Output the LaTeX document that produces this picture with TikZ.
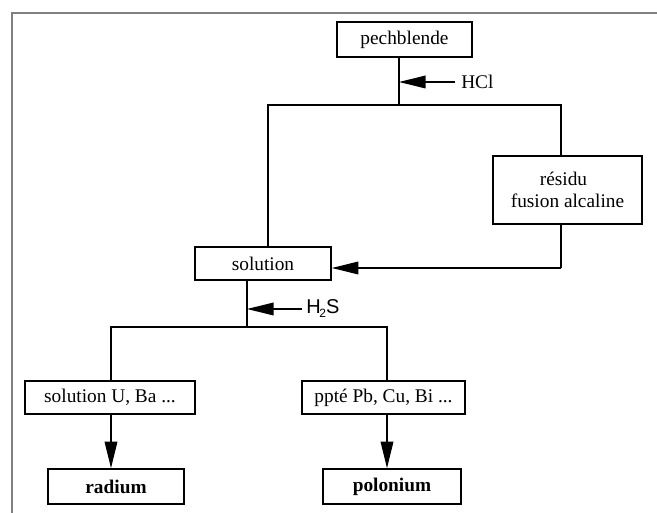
\documentclass[tikz,border=0pt]{standalone}
\usepackage{fontspec}
\setmainfont{Liberation Serif}
\newfontfamily\hsans{Liberation Sans}
\usetikzlibrary{arrows.meta}
\begin{document}
\begin{tikzpicture}[x=0.75pt,y=-0.75pt,
  box/.style={draw,line width=1.2pt,inner sep=0pt,minimum height=#1*0.75pt,align=center,font=\fontsize{14.5}{17}\selectfont},
  link/.style={line width=1.1pt},
  tip/.style={line width=1.1pt,-{Triangle[length=20pt,width=9.5pt]}},
  lbl/.style={font=\fontsize{14.5}{17}\selectfont,inner sep=0pt,anchor=west}]
\useasboundingbox (0,0) rectangle (657,513);
\draw[gray,line width=1.4pt] (657,13) -- (12,13) -- (12,513);
% boxes
\node[box=35,minimum width=135*0.75pt] (pech) at (404.5,39.5) {pechblende};
\node[box=68,minimum width=149*0.75pt] (res) at (567.5,190) {\hspace*{-6pt}résidu\\fusion alcaline};
\node[box=33,minimum width=136*0.75pt] (sol) at (263,263.5) {solution};
\node[box=33,minimum width=170*0.75pt] (solU) at (110,397.5) {solution U, Ba ...};
\node[box=33,minimum width=163*0.75pt] (ppte) at (383.5,397.5) {ppté Pb, Cu, Bi ...};
\node[box=35,minimum width=136*0.75pt,font=\fontsize{14.5}{17}\selectfont\bfseries] (rad) at (116,486.5) {radium};
\node[box=35,minimum width=138*0.75pt,font=\fontsize{14.5}{17}\selectfont\bfseries] (polo) at (392,486.5) {polonium};
% junctions
\coordinate (j1) at (399,105);
\coordinate (jL) at (268,105);
\coordinate (jR) at (561,105);
\coordinate (k) at (561,268);
\coordinate (hcl) at (455,82);
\coordinate (j2) at (247,327);
\coordinate (h2s) at (302,309);
\coordinate (jA) at (111,327);
\coordinate (jB) at (387,327);
% connectors
\draw[link] (pech.south -| j1) -- (j1);
\draw[link] (sol.north -| jL) |- (jR) -- (res.north -| jR);
\draw[tip] (hcl) -- (hcl -| j1);
\node[lbl] (hcllbl) at (461,82) {HCl};
\draw[link] (res.south -| k) -- (k);
\draw[tip] (k) -- (sol.east |- k);
\draw[link] (sol.south -| j2) -- (j2);
\draw[tip] (h2s) -- (h2s -| j2);
\node[lbl,font=\hsans\fontsize{15}{17}\selectfont] (h2slbl) at (306,309) {H\kern-1pt\raisebox{-3pt}{\fontsize{9}{10}\selectfont 2}S};
\draw[link] (solU.north -| jA) |- (jB) -- (ppte.north -| jB);
\draw[tip] (solU.south -| jA) -- (rad.north -| jA);
\draw[tip] (ppte.south -| jB) -- (polo.north -| jB);
\end{tikzpicture}
\end{document}
